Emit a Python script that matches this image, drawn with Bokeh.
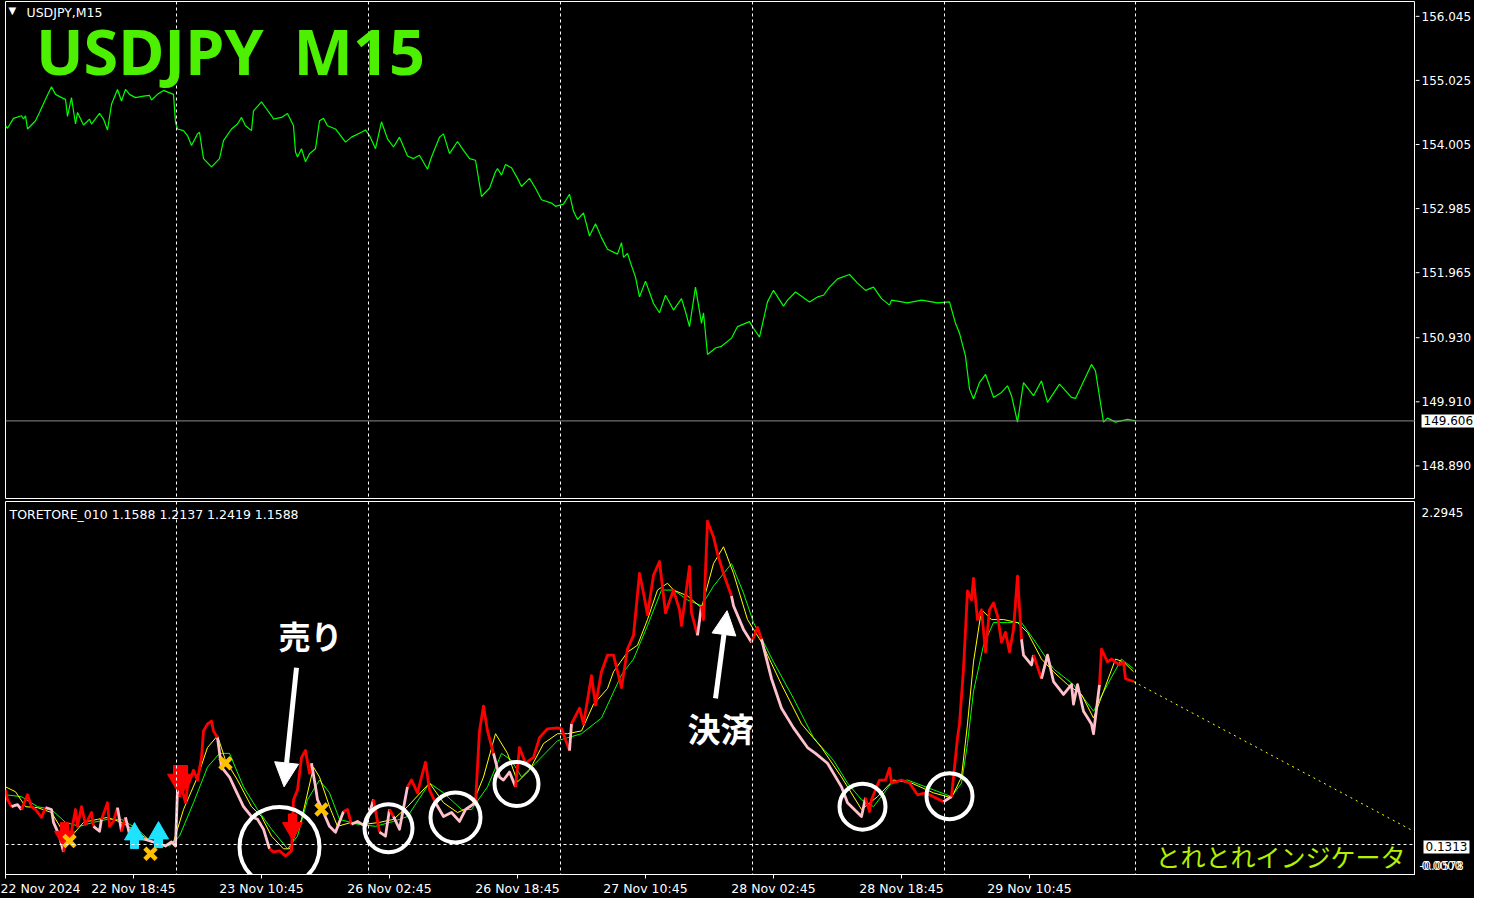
import numpy as np
from bokeh.plotting import figure
from bokeh.layouts import column, row
from bokeh.models import Range1d, FixedTicker, Span, Label, Arrow, NormalHead
from bokeh.core.properties import value
from bokeh.embed import file_html
from bokeh.resources import INLINE

# ---------------- data (bar index = M15 bar counted from the left edge) ----------------
price_bar = [0, 1, 4, 8, 9, 10, 11, 15, 17, 20, 23, 25, 28, 30, 31, 33, 35, 36, 39, 42, 43, 47, 49, 51, 53,
             56, 58, 60, 62, 65, 69, 72, 73, 76, 79, 84, 85, 86, 89, 91, 93, 96, 97, 99, 103, 107, 109, 113,
             116, 118, 120, 123, 124, 128, 130, 133, 134, 138, 141, 144, 145, 146, 148, 150, 152, 155, 157,
             159, 161, 165, 170, 173, 178, 180, 182, 185, 188, 191, 194, 197, 201, 204, 207, 211, 213, 217,
             219, 222, 226, 229, 232, 235, 238, 242, 245, 246, 248, 250, 253, 256, 258, 262, 265, 268, 273,
             275, 279, 282, 284, 286, 289, 292, 295, 298, 301, 306, 308, 309, 311, 313, 315, 317, 320, 324,
             327, 330, 334, 338, 340, 342, 345, 348, 349, 351, 355, 358, 363, 366, 372, 374, 377, 381, 384,
             389, 391, 395, 398, 402, 406, 409, 412, 416, 422, 426, 430, 434, 438, 442, 443, 451, 458, 466,
             472, 475, 477, 480, 482, 484, 487, 490, 494, 498, 501, 503, 506, 509, 514, 518, 521, 527, 533,
             535, 538, 543, 545, 549, 551, 555, 561, 565]
price_val = [154.304, 154.263, 154.421, 154.462, 154.410, 154.462, 154.252, 154.383, 154.515, 154.724,
             154.924, 154.803, 154.751, 154.724, 154.452, 154.751, 154.331, 154.515, 154.315, 154.410,
             154.331, 154.499, 154.410, 154.237, 154.645, 154.881, 154.697, 154.881, 154.803, 154.751,
             154.776, 154.787, 154.713, 154.803, 154.866, 154.803, 154.358, 154.252, 154.226, 154.147,
             153.990, 154.174, 154.200, 153.781, 153.650, 153.781, 154.068, 154.252, 154.331, 154.436,
             154.304, 154.226, 154.540, 154.682, 154.594, 154.462, 154.410, 154.436, 154.499, 154.304,
             153.886, 153.807, 153.938, 153.729, 153.859, 153.938, 154.383, 154.421, 154.304, 154.252,
             154.043, 154.122, 154.200, 154.237, 154.147, 153.938, 154.367, 154.095, 153.965, 154.122,
             153.823, 153.781, 153.833, 153.612, 153.807, 154.122, 154.174, 153.859, 154.053, 153.911,
             153.781, 153.754, 153.178, 153.309, 153.571, 153.623, 153.518, 153.686, 153.634, 153.466,
             153.336, 153.466, 153.309, 153.125, 153.073, 153.021, 153.057, 153.214, 152.942, 152.810,
             152.916, 152.549, 152.743, 152.523, 152.339, 152.260, 152.444, 152.208, 152.271, 152.078,
             151.894, 151.579, 151.831, 151.474, 151.327, 151.606, 151.370, 151.552, 151.343, 151.107,
             151.736, 151.159, 151.327, 150.662, 150.766, 150.793, 150.923, 151.107, 151.186, 151.081,
             150.939, 151.500, 151.684, 151.433, 151.527, 151.658, 151.590, 151.500, 151.579, 151.606,
             151.736, 151.867, 151.936, 151.799, 151.684, 151.736, 151.552, 151.449, 151.527, 151.485,
             151.527, 151.485, 151.500, 151.159, 151.002, 150.636, 150.112, 149.955, 150.216, 150.348,
             149.980, 150.059, 150.164, 150.007, 149.587, 150.216, 150.007, 150.243, 149.901, 150.191,
             149.980, 149.964, 150.164, 150.505, 150.400, 149.587, 149.650, 149.587, 149.629, 149.606]

main_bar = [0, 1, 3, 6, 8, 11, 13, 15, 18, 20, 23, 24, 27, 29, 31, 32, 35, 36, 38, 40, 43, 44, 47, 48, 51,
            52, 54, 56, 58, 60, 62, 64, 69, 74, 80, 83, 85, 86, 87, 88, 90, 91, 94, 96, 98, 99, 101, 103,
            104, 106, 108, 112, 115, 119, 123, 126, 129, 132, 134, 137, 140, 143, 144, 146, 148, 150, 152,
            153, 155, 156, 159, 162, 165, 169, 171, 173, 176, 180, 184, 187, 190, 192, 194, 197, 201, 203,
            206, 208, 210, 212, 215, 219, 223, 227, 230, 235, 237, 239, 241, 244, 247, 249, 252, 255, 257,
            260, 264, 267, 271, 276, 278, 282, 283, 287, 289, 293, 295, 298, 301, 304, 308, 311, 314, 317,
            319, 321, 324, 327, 330, 334, 337, 338, 342, 343, 346, 348, 349, 351, 354, 356, 359, 363, 364,
            369, 373, 376, 378, 383, 388, 394, 401, 405, 411, 418, 421, 428, 430, 432, 433, 437, 440, 442,
            443, 448, 452, 456, 460, 464, 469, 473, 475, 476, 477, 479, 481, 483, 484, 486, 488, 490, 492,
            494, 496, 498, 500, 502, 504, 506, 508, 509, 513, 514, 518, 521, 524, 529, 533, 534, 536, 539,
            543, 544, 547, 548, 551, 553, 557, 559, 560, 564]
main_val = [0.476, 0.414, 0.370, 0.383, 0.352, 0.445, 0.370, 0.352, 0.302, 0.364, 0.352, 0.271, 0.184,
            0.085, 0.209, 0.147, 0.352, 0.246, 0.370, 0.259, 0.333, 0.246, 0.215, 0.290, 0.395, 0.246,
            0.277, 0.364, 0.215, 0.302, 0.197, 0.184, 0.166, 0.147, 0.122, 0.147, 0.122, 0.476, 0.433,
            0.495, 0.395, 0.495, 0.600, 0.538, 0.681, 0.848, 0.892, 0.910, 0.848, 0.805, 0.619, 0.557,
            0.476, 0.370, 0.308, 0.290, 0.228, 0.104, 0.085, 0.091, 0.060, 0.091, 0.414, 0.476, 0.681,
            0.724, 0.581, 0.644, 0.495, 0.414, 0.333, 0.246, 0.209, 0.339, 0.352, 0.259, 0.277, 0.246,
            0.414, 0.209, 0.184, 0.352, 0.308, 0.228, 0.495, 0.538, 0.457, 0.557, 0.650, 0.476, 0.395,
            0.308, 0.333, 0.277, 0.352, 0.395, 0.848, 1.004, 0.848, 0.706, 0.557, 0.538, 0.588, 0.495,
            0.743, 0.644, 0.681, 0.805, 0.861, 0.867, 0.861, 0.724, 0.892, 0.991, 0.892, 1.196, 1.010,
            1.221, 1.326, 1.326, 1.121, 1.364, 1.450, 1.841, 1.717, 1.581, 1.829, 1.916, 1.593, 1.736,
            1.612, 1.512, 1.885, 1.593, 1.450, 1.637, 1.550, 2.170, 2.071, 1.966, 1.841, 1.699, 1.637,
            1.488, 1.407, 1.500, 1.426, 1.177, 0.991, 0.867, 0.743, 0.706, 0.644, 0.495, 0.395, 0.308,
            0.426, 0.339, 0.414, 0.538, 0.538, 0.613, 0.519, 0.538, 0.519, 0.445, 0.457, 0.433, 0.401,
            0.433, 0.681, 0.805, 0.892, 1.239, 1.730, 1.674, 1.810, 1.550, 1.612, 1.345, 1.612, 1.655,
            1.575, 1.407, 1.469, 1.345, 1.488, 1.823, 1.426, 1.326, 1.264, 1.326, 1.177, 1.326, 1.159,
            1.078, 1.140, 1.016, 1.140, 0.972, 0.892, 0.830, 1.140, 1.364, 1.283, 1.301, 1.264, 1.283,
            1.177, 1.159]

# stretches (in bars) where the main line is drawn in its light "falling" colour
pink_start = [2.5, 21.5, 45.5, 56.5, 60.5, 67.5, 105.5, 154, 173, 186, 195.5, 214, 244.5, 280.5, 345,
              363.5, 379.5, 468.5, 508, 516.5, 522.5]
pink_end = [8.5, 29, 47.5, 58.5, 64.5, 86.5, 131.5, 168, 183.5, 191.5, 200, 235.5, 255.5, 283, 347.5,
            374, 429, 473.5, 513.5, 519.5, 545.5]

yellow_bar = [0, 5, 10, 16, 23, 29, 33, 39, 46, 51, 58, 66, 73, 80, 84, 89, 96, 101, 106, 110, 116, 123,
              128, 133, 139, 142, 148, 154, 157, 162, 166, 173, 180, 187, 194, 201, 212, 219, 226, 233, 239,
              245, 251, 256, 262, 269, 276, 281, 288, 294, 301, 304, 311, 316, 321, 326, 331, 334, 341, 348,
              354, 359, 364, 371, 378, 388, 398, 408, 418, 428, 436, 444, 453, 464, 473, 478, 481, 484, 488,
              493, 499, 506, 511, 518, 524, 531, 538, 544, 549, 555, 559, 564]
yellow_val = [0.495, 0.464, 0.370, 0.364, 0.333, 0.209, 0.184, 0.271, 0.290, 0.302, 0.271, 0.209, 0.147,
              0.122, 0.147, 0.352, 0.557, 0.743, 0.817, 0.662, 0.538, 0.370, 0.308, 0.184, 0.104, 0.104,
              0.290, 0.619, 0.557, 0.370, 0.246, 0.271, 0.259, 0.271, 0.290, 0.370, 0.519, 0.395, 0.333,
              0.370, 0.557, 0.830, 0.706, 0.526, 0.600, 0.768, 0.830, 0.830, 0.848, 1.016, 1.115, 1.221,
              1.345, 1.388, 1.550, 1.736, 1.779, 1.736, 1.699, 1.624, 1.903, 2.009, 1.841, 1.550, 1.407,
              1.140, 0.892, 0.743, 0.557, 0.352, 0.433, 0.538, 0.519, 0.457, 0.426, 0.557, 0.892, 1.283,
              1.612, 1.550, 1.550, 1.531, 1.469, 1.301, 1.221, 1.140, 1.078, 0.929, 1.097, 1.301, 1.283,
              1.221]

green_bar = [0, 8, 16, 23, 30, 37, 44, 51, 58, 66, 73, 82, 87, 94, 101, 107, 112, 119, 126, 133, 141, 146,
             151, 157, 162, 167, 176, 185, 194, 201, 212, 219, 228, 233, 241, 248, 253, 258, 265, 276, 288,
             298, 308, 314, 321, 328, 334, 341, 348, 354, 363, 369, 374, 384, 394, 404, 414, 421, 428, 434,
             443, 451, 464, 473, 478, 481, 484, 489, 494, 501, 508, 514, 524, 534, 544, 551, 558, 564]
green_val = [0.445, 0.433, 0.370, 0.352, 0.271, 0.246, 0.271, 0.290, 0.290, 0.228, 0.147, 0.122, 0.184,
             0.395, 0.619, 0.706, 0.706, 0.495, 0.352, 0.228, 0.104, 0.184, 0.414, 0.538, 0.457, 0.290,
             0.259, 0.246, 0.277, 0.308, 0.519, 0.457, 0.352, 0.352, 0.495, 0.706, 0.662, 0.557, 0.644,
             0.786, 0.830, 0.929, 1.202, 1.301, 1.512, 1.736, 1.736, 1.674, 1.637, 1.761, 1.903, 1.717,
             1.531, 1.283, 1.053, 0.805, 0.662, 0.519, 0.414, 0.370, 0.519, 0.538, 0.476, 0.433, 0.519,
             0.768, 1.097, 1.388, 1.531, 1.531, 1.531, 1.426, 1.239, 1.140, 0.972, 1.140, 1.301, 1.239]

proj_bar = [564, 705]
proj_val = [1.159, 0.209]

price_ticks = [156.045, 155.025, 154.005, 152.985, 151.965, 150.930, 149.910, 148.890]
date_tick_bars = [0, 64, 128, 192, 256, 320, 384, 448, 512]
date_tick_labels = ["22 Nov 2024", "22 Nov 18:45", "23 Nov 10:45", "26 Nov 02:45", "26 Nov 18:45",
                    "27 Nov 10:45", "28 Nov 02:45", "28 Nov 18:45", "29 Nov 10:45"]
day_sep_bars = [85.5, 181.5, 277.5, 373.5, 469.5, 565]
current_price = 149.606
level_value = 0.1313
ind_max = 2.2945
ind_min = -0.0578
buffer_values = ["1.1588", "1.2137", "1.2419", "1.1588"]

sell_bar = [29.5, 86, 89, 143.5]
sell_val = [0.197, 0.557, 0.557, 0.252]
buy_bar = [64.5, 76.5]
buy_val = [0.178, 0.184]
exit_bar = [32, 72.5, 110, 158]
exit_val = [0.153, 0.073, 0.644, 0.352]
circle_bar = [137, 191.5, 225, 255.5, 428.5, 472]
circle_val = [0.116, 0.234, 0.302, 0.513, 0.370, 0.436]

# ---------------- styling / layout ----------------
FONT = "DejaVu Sans"
FS = "12.5px"
AFS = "12px"
RED, PINK, YEL, GRN = "#FF0000", "#FFC0CB", "#FFFF00", "#00FF00"
MAIN_W, STRIP_W = 1415, 59
TOP_H, BOT_H = 499, 399
x_range = Range1d(0, 705)
top_y = Range1d(148.371, 156.281)
bot_y = Range1d(ind_min, ind_max)

base = dict(output_backend="svg", toolbar_location=None, background_fill_color="black",
            border_fill_color="black", y_axis_location=None)


def strip(y_range, height, btop, bbot):
    s = figure(width=STRIP_W, height=height, x_range=Range1d(0, STRIP_W), y_range=y_range,
               min_border_left=0, min_border_right=0, min_border_top=btop, min_border_bottom=bbot,
               outline_line_color=None, x_axis_location=None, **base)
    s.grid.visible = False
    return s


# ---------------- top panel: price ----------------
top = figure(width=MAIN_W, height=TOP_H, x_range=x_range, y_range=top_y, min_border_left=5,
             min_border_right=0, min_border_top=1, min_border_bottom=1, outline_line_color="white",
             x_axis_location=None, **base)
top.grid.visible = False
for b in day_sep_bars:
    top.add_layout(Span(location=b, dimension="height", line_color="white", line_dash="3 3", line_width=1))
top.add_layout(Span(location=current_price, dimension="width", line_color="#8A8A8A", line_width=1))
top.line(price_bar, price_val, line_color=GRN, line_width=1.2)

top.add_layout(Label(x=1.5, y=156.14, text="▼", text_font=FONT, text_font_size="10px",
                     text_color="white", text_baseline="middle"))
top.add_layout(Label(x=10.5, y=156.108, text="USDJPY,M15", text_font=FONT, text_font_size=FS,
                     text_color="white", text_baseline="middle"))
top.add_layout(Label(x=15.2, y=155.50, text="USDJPY", text_font="Noto Sans", text_font_style="bold",
                     text_font_size="63px", text_color="#4CF000", text_baseline="middle"))
top.add_layout(Label(x=144, y=155.50, text="M15", text_font="Noto Sans", text_font_style="bold",
                     text_font_size="63px", text_color="#4CF000", text_baseline="middle"))

top_s = strip(top_y, TOP_H, 1, 1)
top_s.segment(x0=[0] * len(price_ticks), y0=price_ticks, x1=[4] * len(price_ticks), y1=price_ticks,
              line_color="white", line_width=1)
top_s.text(x=[6] * len(price_ticks), y=price_ticks, text=[f"{v:.3f}" for v in price_ticks],
           text_font=value(FONT), text_font_size=AFS, text_color="white", text_baseline="middle")
top_s.add_layout(Label(x=6, y=current_price, text=f"{current_price:.3f}", text_font=FONT, text_font_size=AFS,
                       text_color="black", text_baseline="middle", background_fill_color="white", padding=2))

# ---------------- bottom panel: indicator ----------------
bot = figure(width=MAIN_W, height=BOT_H, x_range=x_range, y_range=bot_y, min_border_left=5,
             min_border_right=0, min_border_top=2, min_border_bottom=24, outline_line_color="white",
             x_axis_location="below", **base)
bot.grid.visible = False
xa = bot.xaxis[0]
xa.ticker = FixedTicker(ticks=date_tick_bars)
xa.major_label_overrides = {b: s for b, s in zip(date_tick_bars, date_tick_labels)}
xa.major_label_text_align = "left"
xa.major_label_text_color = "white"
xa.major_label_text_font = FONT
xa.major_label_text_font_size = FS
xa.major_tick_line_color = "white"
xa.major_tick_out = 4
xa.major_tick_in = 0
xa.minor_tick_line_color = None
xa.axis_line_color = "white"
xa.major_label_standoff = 2

PXV = (ind_max - ind_min) / 374.0

for b in day_sep_bars:
    bot.add_layout(Span(location=b, dimension="height", line_color="white", line_dash="3 3", line_width=1))
bot.add_layout(Span(location=level_value, dimension="width", line_color="white", line_dash="3 3", line_width=1))

bot.line(proj_bar, proj_val, line_color=YEL, line_dash="2 4", line_width=1)
bot.line(green_bar, green_val, line_color=GRN, line_width=1)
bot.line(yellow_bar, yellow_val, line_color=YEL, line_width=1)

mb = np.array(main_bar, dtype=float)
mv = np.array(main_val, dtype=float)
mid = (mb[:-1] + mb[1:]) / 2
is_pink = np.zeros(len(mid), dtype=bool)
for s0, s1 in zip(pink_start, pink_end):
    is_pink |= (mid >= s0) & (mid <= s1)
xs, ys, cols = [], [], []
start = 0
n = len(is_pink)
for i in range(1, n + 1):
    if i == n or is_pink[i] != is_pink[start]:
        xs.append(list(mb[start:i + 1]))
        ys.append(list(mv[start:i + 1]))
        cols.append(PINK if is_pink[start] else RED)
        start = i
bot.multi_line(xs, ys, line_color=cols, line_width=2.8, line_join="round")

# signal arrows
sb = np.array(sell_bar); sv = np.array(sell_val)
bot.rect(sb, sv + 6.5 * PXV, width=8, height=10, width_units="screen", height_units="screen",
         fill_color=RED, line_color=RED)
bot.scatter(sb, sv - 3 * PXV, marker="inverted_triangle", size=20, fill_color=RED, line_color=RED)
ub = np.array(buy_bar); uv = np.array(buy_val)
bot.rect(ub, uv - 6.5 * PXV, width=8, height=10, width_units="screen", height_units="screen",
         fill_color="#1EE3FF", line_color="#1EE3FF")
bot.scatter(ub, uv + 3 * PXV, marker="triangle", size=20, fill_color="#1EE3FF", line_color="#1EE3FF")
bot.scatter(exit_bar, exit_val, marker="x", size=16, line_color="#FFC000", line_width=4.5)

# annotation circles
bot.scatter(circle_bar, circle_val, marker="circle", size=[80, 48, 50, 44, 46, 46],
            fill_alpha=0, line_color="white", line_width=4)

bot.add_layout(Arrow(end=NormalHead(size=24, fill_color="white", line_color="white"),
                     x_start=145.5, y_start=1.246, x_end=139.3, y_end=0.495,
                     line_color="white", line_width=5))
bot.add_layout(Arrow(end=NormalHead(size=24, fill_color="white", line_color="white"),
                     x_start=355, y_start=1.053, x_end=360.8, y_end=1.606,
                     line_color="white", line_width=5))
bot.add_layout(Label(x=152.5, y=1.450, text="売り", text_font="Noto Sans CJK JP", text_font_style="bold",
                     text_font_size="32px", text_color="white", text_align="center", text_baseline="middle"))
bot.add_layout(Label(x=357.5, y=0.867, text="決済", text_font="Noto Sans CJK JP", text_font_style="bold",
                     text_font_size="33px", text_color="white", text_align="center", text_baseline="middle"))
bot.add_layout(Label(x=637.5, y=0.060, text="とれとれインジケータ", text_font="Noto Sans CJK JP",
                     text_font_size="25px", text_color="#B4F000", text_align="center", text_baseline="middle"))
bot.add_layout(Label(x=2, y=2.214, text="TORETORE_010 " + " ".join(buffer_values), text_font=FONT,
                     text_font_size=FS, text_color="white", text_baseline="middle"))

bot_s = strip(bot_y, BOT_H, 2, 24)
bot_s.text(x=[6], y=[2.226], text=[f"{ind_max:.4f}"], text_font=value(FONT), text_font_size=AFS,
           text_color="white", text_baseline="middle")
bot_s.text(x=[6, 4], y=[-0.004, -0.004], text=["0.0000", f"{ind_min:.4f}"], text_font=value(FONT),
           text_font_size="11.5px", text_color="white", text_baseline="middle")
bot_s.add_layout(Label(x=8, y=0.116, text=f"{level_value:.4f}", text_font=FONT, text_font_size=AFS,
                       text_color="black", text_baseline="middle", background_fill_color="white", padding=2))

layout = column(row(top, top_s, spacing=0), row(bot, bot_s, spacing=0), spacing=0,
                styles={"background-color": "black"})
open("out.html", "w").write(file_html(layout, INLINE))
